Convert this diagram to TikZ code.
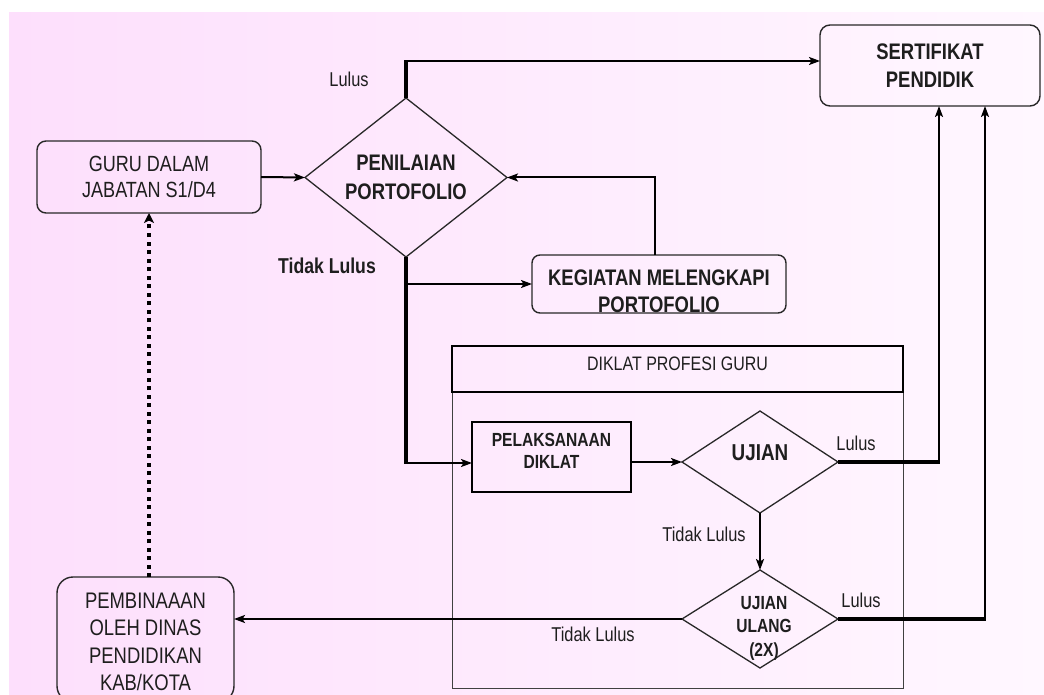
\documentclass[tikz,border=0pt]{standalone}
\usepackage{fontspec}
\setmainfont{Liberation Sans}[FakeStretch=0.82]
\usetikzlibrary{shapes.geometric,arrows.meta,calc}
\definecolor{pinkL}{RGB}{253,223,252}
\definecolor{pinkR}{RGB}{255,247,255}
\definecolor{edge}{RGB}{40,40,40}
\definecolor{txt}{RGB}{30,30,30}
\begin{document}
\begin{tikzpicture}[x=1pt,y=-1pt,
  every node/.style={outer sep=0pt, text=txt},
  rbox/.style={draw=edge, line width=1.4pt, rounded corners=9pt, inner sep=0pt, align=center},
  sbox/.style={draw=black, line width=2pt, inner sep=0pt},
  dec/.style={diamond, draw=edge, line width=1.3pt, inner sep=0pt},
  lbl/.style={align=center, inner sep=0pt},
  elbl/.style={inner sep=0pt, font=\fontsize{20}{24}\selectfont},
  ln/.style={line width=2pt, draw=black},
  arr/.style={ln, -{Stealth[length=11pt,width=8pt,inset=2.5pt]}},
  thk/.style={line width=4pt, draw=black},
  dots/.style={line width=4pt, dash pattern=on 4pt off 4.5pt, -{Stealth[length=10pt,width=10pt,inset=2.5pt]}}
]
\useasboundingbox (0,0) rectangle (1044,695);
\fill[left color=pinkL, right color=pinkR] (9,13) rectangle (1044,695);

% container
\node[draw=black!75, line width=1pt, minimum width=451pt, minimum height=342pt] (cont) at (677.5,517) {};
\node[sbox, minimum width=451pt, minimum height=46pt,
  label={[lbl, yshift=5pt, font=\fontsize{19.5}{23}\selectfont]center:DIKLAT PROFESI GURU}] (title) at (677.5,369) {};

% boxes
\node[rbox, minimum width=224pt, minimum height=72pt, font=\fontsize{22}{26}\selectfont] (guru) at (149,177) {GURU DALAM\\JABATAN S1/D4};
\node[dec, minimum width=202pt, minimum height=159pt,
  label={[lbl, font=\bfseries\fontsize{22.5}{29}\selectfont]center:{PENILAIAN\\PORTOFOLIO}}] (pen) at (406,177.5) {};
\node[rbox, rounded corners=10pt, minimum width=220pt, minimum height=81pt, font=\bfseries\fontsize{22.5}{28}\selectfont] (sert) at (930,65.5) {SERTIFIKAT\\PENDIDIK};
\node[rbox, rounded corners=8pt, minimum width=254pt, minimum height=58pt,
  label={[lbl, yshift=-7.5pt, font=\bfseries\fontsize{22.5}{27}\selectfont]center:{KEGIATAN MELENGKAPI\\PORTOFOLIO}}] (keg) at (659,284) {};
\node[sbox, minimum width=159pt, minimum height=70pt,
  label={[lbl, yshift=6pt, font=\bfseries\fontsize{19}{22}\selectfont]center:{PELAKSANAAN\\DIKLAT}}] (pel) at (551.5,457) {};
\node[dec, minimum width=156pt, minimum height=102pt,
  label={[lbl, yshift=9pt, font=\bfseries\fontsize{23}{27}\selectfont]center:UJIAN}] (uj) at (760,462) {};
\node[dec, minimum width=156pt, minimum height=98pt,
  label={[lbl, xshift=4pt, yshift=-9pt, font=\bfseries\fontsize{19}{23.5}\selectfont]center:{UJIAN\\ULANG\\(2X)}}] (u2) at (760,619) {};
\node[rbox, rounded corners=16pt, minimum width=177pt, minimum height=125pt,
  label={[lbl, yshift=-2.5pt, font=\fontsize{22.5}{27.4}\selectfont]center:{PEMBINAAAN\\OLEH DINAS\\PENDIDIKAN\\KAB/KOTA}}] (pem) at (145.5,639.5) {};

% edge labels
\node[elbl] (l1) at (349,79) {Lulus};
\node[inner sep=0pt, font=\bfseries\fontsize{21.5}{24}\selectfont] (l2) at (327,266) {Tidak Lulus};
\node[elbl] (l3) at (856,443) {Lulus};
\node[elbl] (l4) at (704,534) {Tidak Lulus};
\node[elbl] (l5) at (861,600) {Lulus};
\node[elbl] (l6) at (593,634) {Tidak Lulus};

% coordinates
\coordinate (p1) at (406,61);
\coordinate (p2) at (406,463);
\coordinate (p3) at (406,284);
\coordinate (p4) at (939,462);
\coordinate (p5) at (985,619);

% connectors
\draw[arr] (guru.east) -- (pen.west);
\draw[thk] (pen.north) -- ([yshift=1pt]p1);
\draw[arr] (p1) -- (sert.west |- p1);
\draw[thk] (pen.south) -- ([yshift=-1pt]p2);
\draw[arr] (p2) -- (pel.west |- p2);
\draw[arr] (p3) -- (keg.west |- p3);
\draw[arr] ([xshift=-4pt]keg.north) |- (pen.east);
\draw[arr] (pel.east |- uj.west) -- (uj.west);
\draw[thk] (uj.east) -- ([xshift=1pt]p4);
\draw[arr] (p4) -- (p4 |- sert.south);
\draw[arr] (uj.south) -- (u2.north);
\draw[thk] (u2.east) -- ([xshift=1pt]p5);
\draw[arr] (p5) -- (p5 |- sert.south);
\draw[arr] (u2.west) -- (pem.east |- u2.west);
\draw[dots] (guru.south |- pem.north) -- (guru.south);
\end{tikzpicture}
\end{document}
